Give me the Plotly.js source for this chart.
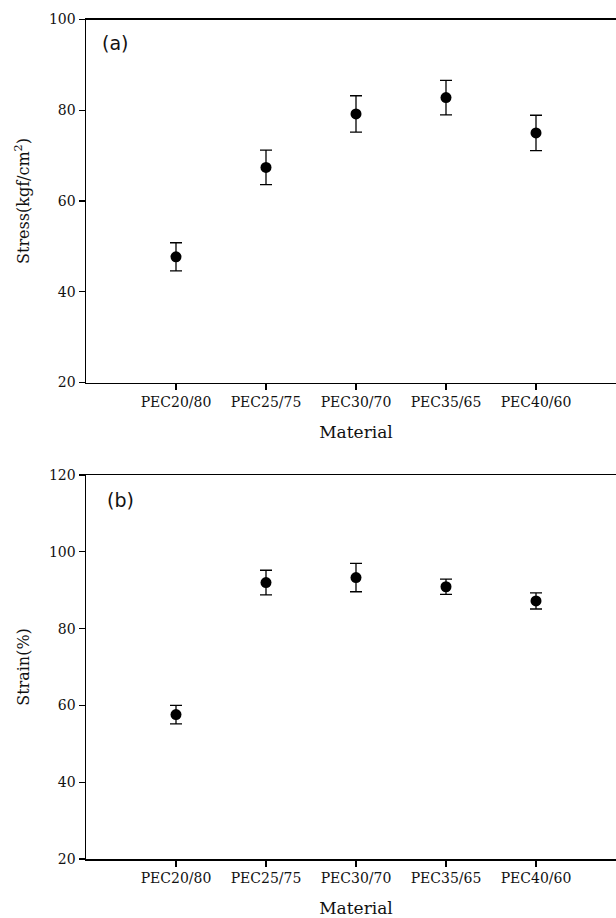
<!DOCTYPE html>
<html>
<head>
<meta charset="utf-8">
<script src="https://cdn.plot.ly/plotly-3.0.1.min.js"></script>
<style>
html,body{margin:0;padding:0;overflow:hidden;background:#fff;width:616px;height:918px;}
#chart{width:626px;height:918px;}
</style>
</head>
<body>
<div id="chart"></div>
<script>
// Data
const materials = ["PEC20/80", "PEC25/75", "PEC30/70", "PEC35/65", "PEC40/60"];
const stressMean = [47.7, 67.4, 79.2, 82.8, 75.0];
const stressErr  = [3.1, 3.8, 4.0, 3.8, 3.9];
const strainMean = [57.6, 92.0, 93.3, 90.9, 87.2];
const strainErr  = [2.4, 3.2, 3.7, 2.0, 2.1];
const stressTicks = [20, 40, 60, 80, 100];
const strainTicks = [20, 40, 60, 80, 100, 120];

const H = 918, W = 626;
const serif = "DejaVu Serif, serif";
const sans = "DejaVu Sans, Arial, sans-serif";

function trace(y, err, xa, ya) {
  return {
    type: "scatter", mode: "markers",
    x: materials.map((m, i) => i), y: y,
    xaxis: xa, yaxis: ya,
    marker: {symbol: "circle", size: 11, color: "#000"},
    error_y: {type: "data", array: err, visible: true, color: "#000", thickness: 1.3, width: 6},
    showlegend: false, hoverinfo: "x+y"
  };
}

const xBase = {
  domain: [86 / W, 1], range: [-1, 5],
  tickmode: "array", tickvals: materials.map((m, i) => i), ticktext: materials,
  ticks: "outside", ticklen: 6, tickwidth: 1.2, tickcolor: "#000",
  showline: true, linecolor: "#000", linewidth: 1.5, mirror: true,
  showgrid: false, zeroline: false,
  tickfont: {family: serif, size: 14, color: "#111"}
};
function yBase(range, ticks) {
  return {
    range: range, tickmode: "array", tickvals: ticks,
    ticks: "outside", ticklen: 6, tickwidth: 1.2, tickcolor: "#000",
    showline: true, linecolor: "#000", linewidth: 1.5,
    showgrid: false, zeroline: false,
    tickfont: {family: serif, size: 14, color: "#111"}
  };
}

const layout = {
  width: W, height: H,
  margin: {l: 0, r: 0, t: 0, b: 0},
  paper_bgcolor: "#fff", plot_bgcolor: "#fff",
  showlegend: false,
  xaxis: Object.assign({}, xBase, {anchor: "y",
    title: {text: "Material", font: {family: serif, size: 17, color: "#111"}, standoff: 17}}),
  yaxis: Object.assign({}, yBase([20, 100], stressTicks), {anchor: "x",
    domain: [1 - 382.5 / H, 1 - 19.5 / H],
    title: {text: "Stress(kgf/cm<sup>2</sup>)", font: {family: serif, size: 16, color: "#111"}, standoff: 15}}),
  xaxis2: Object.assign({}, xBase, {anchor: "y2",
    title: {text: "Material", font: {family: serif, size: 17, color: "#111"}, standoff: 17}}),
  yaxis2: Object.assign({}, yBase([20, 120], strainTicks), {anchor: "x2",
    domain: [1 - 859 / H, 1 - 475 / H],
    title: {text: "Strain(%)", font: {family: serif, size: 16, color: "#111"}, standoff: 15}}),
  annotations: [
    {text: "(a)", xref: "paper", yref: "paper", x: 100 / W, y: 1 - 43 / H,
     xanchor: "left", yanchor: "middle", showarrow: false,
     font: {family: sans, size: 19, color: "#111"}},
    {text: "(b)", xref: "paper", yref: "paper", x: 105 / W, y: 1 - 500 / H,
     xanchor: "left", yanchor: "middle", showarrow: false,
     font: {family: sans, size: 19, color: "#111"}}
  ]
};

Plotly.newPlot("chart", [
  trace(stressMean, stressErr, "x", "y"),
  trace(strainMean, strainErr, "x2", "y2")
], layout, {displayModeBar: false, staticPlot: true});
</script>
</body>
</html>
